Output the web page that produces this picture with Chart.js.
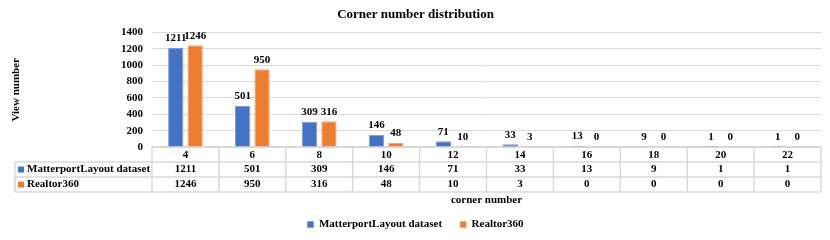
<!DOCTYPE html>
<html><head><meta charset="utf-8">
<script src="https://cdn.jsdelivr.net/npm/chart.js@4.4.1/dist/chart.umd.min.js"></script>
<style>html,body{margin:0;padding:0;background:#fff}</style>
</head><body>
<canvas id="c" width="830" height="240"></canvas>
<script>
const categories = ['4','6','8','10','12','14','16','18','20','22'];
const matterportValues = [1211,501,309,146,71,33,13,9,1,1];
const realtorValues = [1246,950,316,48,10,3,0,0,0,0];
const seriesNames = ['MatterportLayout dataset','Realtor360'];
const seriesColors = ['#4472C4','#ED7D31'];
const seriesBorders = ['#7f9fd8','#f3a673'];
const yMin = 0, yMax = 1400, yStep = 200;
const chartTitle = 'Corner number distribution';
const xTitle = 'corner number';
const yTitle = 'View number';

const FF = "'Liberation Serif','Times New Roman',serif";
const font11 = {family: FF, size: 11, weight: 'bold'};
const GRID = '#d9d9d9';
const ROW_H = 15;

const valueLabels = {
  id: 'valueLabels',
  afterDatasetsDraw(chart) {
    const ctx = chart.ctx;
    ctx.save();
    ctx.font = 'bold 11px ' + FF;
    ctx.fillStyle = '#000';
    ctx.textAlign = 'center';
    ctx.textBaseline = 'bottom';
    chart.data.datasets.forEach((ds, di) => {
      const meta = chart.getDatasetMeta(di);
      meta.data.forEach((bar, i) => {
        ctx.fillText(String(ds.data[i]), bar.x, bar.y - 4);
      });
    });
    ctx.restore();
  }
};

const dataTable = {
  id: 'dataTable',
  afterDraw(chart) {
    const ctx = chart.ctx;
    const x = chart.scales.x;
    const top = chart.chartArea.bottom;
    const left = 15;
    const right = x.right;
    const n = categories.length;
    const cw = (x.right - x.left) / n;
    ctx.save();
    ctx.strokeStyle = GRID;
    ctx.lineWidth = 1.5;
    ctx.beginPath();
    for (let r = 1; r <= 3; r++) {
      const y = top + r * ROW_H;
      ctx.moveTo(left, y); ctx.lineTo(right, y);
    }
    for (let i = 0; i <= n; i++) {
      const xx = x.left + i * cw;
      ctx.moveTo(xx, top); ctx.lineTo(xx, top + 3 * ROW_H);
    }
    ctx.moveTo(left, top + ROW_H); ctx.lineTo(left, top + 3 * ROW_H);
    ctx.stroke();

    ctx.font = 'bold 11px ' + FF;
    ctx.textBaseline = 'middle';
    const rows = [matterportValues, realtorValues];
    rows.forEach((vals, r) => {
      const cy = top + ROW_H * (r + 1) + ROW_H / 2;
      ctx.fillStyle = seriesColors[r];
      ctx.fillRect(18, cy - 3, 6, 6);
      ctx.fillStyle = '#000';
      ctx.textAlign = 'left';
      ctx.fillText(seriesNames[r], 27, cy);
      ctx.textAlign = 'center';
      vals.forEach((v, i) => {
        ctx.fillText(String(v), x.getPixelForValue(i), cy);
      });
    });
    ctx.restore();
  }
};

new Chart(document.getElementById('c'), {
  type: 'bar',
  data: {
    labels: categories,
    datasets: [
      {label: seriesNames[0], data: matterportValues, backgroundColor: seriesColors[0], borderColor: seriesBorders[0], borderWidth: 1},
      {label: seriesNames[1], data: realtorValues, backgroundColor: seriesColors[1], borderColor: seriesBorders[1], borderWidth: 1}
    ]
  },
  options: {
    responsive: false,
    animation: false,
    layout: {padding: {left: 10, right: 9, top: 0, bottom: 0}},
    datasets: {bar: {categoryPercentage: 0.58, barPercentage: 0.79}},
    plugins: {
      title: {display: true, text: chartTitle, color: '#000', font: {family: FF, size: 13, weight: 'bold'}, padding: {top: 7, bottom: 10}},
      legend: {position: 'bottom', labels: {color: '#000', font: font11, boxWidth: 6, boxHeight: 6, padding: 18}},
      tooltip: {enabled: false}
    },
    scales: {
      x: {
        grid: {display: false, drawTicks: false},
        border: {display: true, color: GRID, width: 1.5},
        ticks: {color: '#000', font: font11, padding: 2},
        title: {display: true, text: xTitle, color: '#000', font: font11, padding: {top: 0, bottom: -6}},
        afterFit(s) { s.height = 54; }
      },
      y: {
        min: yMin, max: yMax,
        grid: {color: GRID, drawTicks: false},
        border: {display: false},
        ticks: {stepSize: yStep, color: '#000', font: font11, padding: 9, callback: (v) => String(v)},
        title: {display: true, text: yTitle, color: '#000', font: font11, padding: {top: 0, bottom: 0}},
        afterFit(s) { s.width = 142; }
      }
    }
  },
  plugins: [valueLabels, dataTable]
});
</script>
</body></html>
